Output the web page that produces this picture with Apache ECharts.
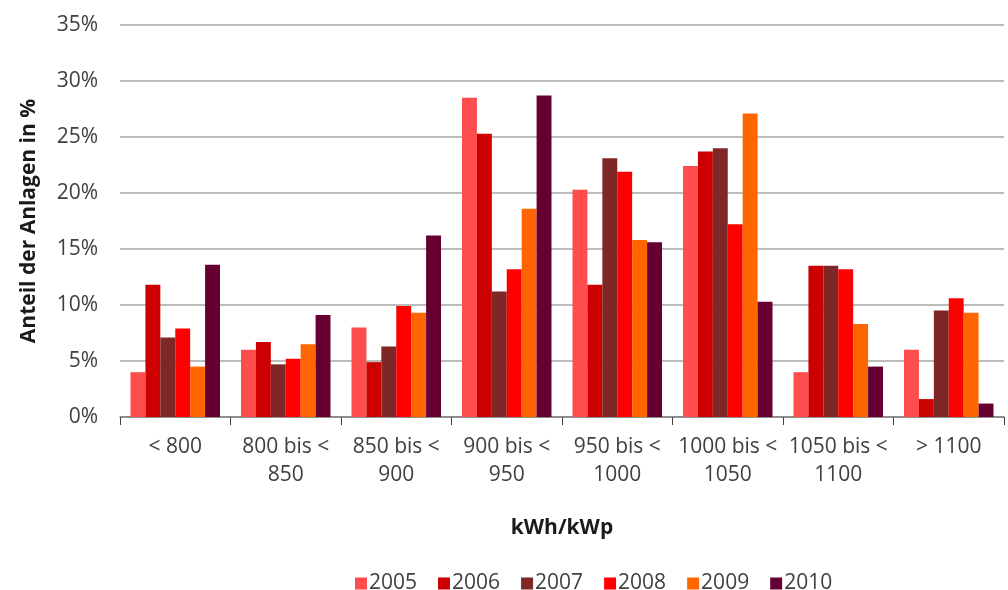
<!DOCTYPE html>
<html>
<head>
<meta charset="utf-8">
<script src="https://cdn.jsdelivr.net/npm/echarts@6/dist/echarts.min.js"></script>
<style>html,body{margin:0;padding:0;background:#fff}#c{width:1008px;height:590px}</style>
</head>
<body>
<div id="c"></div>
<script>
const categories = ['< 800', '800 bis <\n850', '850 bis <\n900', '900 bis <\n950', '950 bis <\n1000', '1000 bis <\n1050', '1050 bis <\n1100', '> 1100'];
const years = ['2005', '2006', '2007', '2008', '2009', '2010'];
const s2005 = [4.0, 6.0, 8.0, 28.5, 20.3, 22.4, 4.0, 6.0];
const s2006 = [11.8, 6.7, 4.9, 25.3, 11.8, 23.7, 13.5, 1.6];
const s2007 = [7.1, 4.7, 6.3, 11.2, 23.1, 24.0, 13.5, 9.5];
const s2008 = [7.9, 5.2, 9.9, 13.2, 21.9, 17.2, 13.2, 10.6];
const s2009 = [4.5, 6.5, 9.3, 18.6, 15.8, 27.1, 8.3, 9.3];
const s2010 = [13.6, 9.1, 16.2, 28.7, 15.6, 10.3, 4.5, 1.2];
const yTicks = [0, 5, 10, 15, 20, 25, 30, 35];

const seriesData = [s2005, s2006, s2007, s2008, s2009, s2010];
const colors = ['#FF4D4D', '#CC0000', '#7F2626', '#FF0000', '#FF6600', '#660033'];
const font = '"Open Sans", "Noto Sans", sans-serif';

const chart = echarts.init(document.getElementById('c'), null, {renderer: 'canvas'});
chart.setOption({
  animation: false,
  color: colors,
  textStyle: {fontFamily: font},
  grid: {left: 120, right: 4, top: 25, bottom: 173, containLabel: false},
  legend: {
    data: years,
    left: 350, top: 568,
    icon: 'rect', itemWidth: 12, itemHeight: 12, itemGap: 21,
    textStyle: {fontSize: 21, color: '#404040', fontFamily: font, padding: [0, 0, 0, -3]}
  },
  xAxis: {
    type: 'category',
    data: categories,
    name: 'kWh/kWp',
    nameLocation: 'middle',
    nameGap: 101,
    nameTextStyle: {fontSize: 21, fontWeight: 'bold', color: '#1a1a1a', fontFamily: font},
    axisLine: {lineStyle: {color: '#7f7f7f', width: 1.5}},
    axisTick: {show: true, length: 8, lineStyle: {color: '#404040'}},
    axisLabel: {interval: 0, fontSize: 21, color: '#404040', lineHeight: 28, margin: 16, fontFamily: font}
  },
  yAxis: {
    type: 'value',
    min: yTicks[0], max: yTicks[yTicks.length - 1], interval: 5,
    name: 'Anteil der Anlagen in %',
    nameLocation: 'middle',
    nameGap: 80,
    nameTextStyle: {fontSize: 21, fontWeight: 'bold', color: '#1a1a1a', fontFamily: font},
    axisLine: {show: false},
    axisTick: {show: false},
    axisLabel: {formatter: '{value}%', fontSize: 21, color: '#404040', margin: 22, fontFamily: font},
    splitLine: {lineStyle: {color: '#a6a6a6', width: 1.5}}
  },
  series: years.map((y, i) => ({
    name: y,
    type: 'bar',
    data: seriesData[i],
    barGap: '0%',
    barCategoryGap: '19%',
    itemStyle: {color: colors[i]}
  }))
});
</script>
</body>
</html>
